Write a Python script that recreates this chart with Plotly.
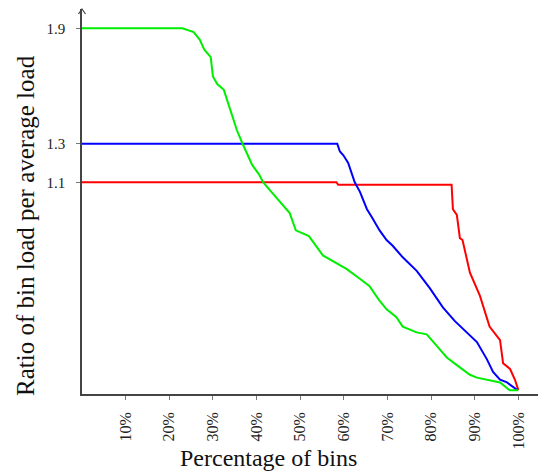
import plotly.graph_objects as go

# Data (x in % of bins, y = ratio of bin load per average load)
green_x = [0, 23, 25.6, 27, 28, 29.5, 30, 31, 32.5, 34, 35.5, 36.8, 38, 39, 40.6, 41.5, 43, 45.3, 47.6, 49, 52,
           55.2, 57.5, 60.6, 63.6, 65.9, 68, 69.8, 72, 73.5, 76.7, 79, 81.3, 83.6, 85.9, 88.9, 90.5, 95.8, 98, 100]
green_y = [1.90, 1.90, 1.88, 1.84, 1.79, 1.75, 1.65, 1.61, 1.58, 1.47, 1.37, 1.30, 1.24, 1.19, 1.14, 1.10, 1.06,
           1.00, 0.94, 0.85, 0.82, 0.72, 0.69, 0.65, 0.60, 0.56, 0.49, 0.44, 0.40, 0.35, 0.32, 0.31, 0.25, 0.19,
           0.15, 0.10, 0.085, 0.06, 0.02, 0.02]

blue_x = [0, 58.5, 59.1, 59.9, 61, 61.8, 62.5, 63.7, 65.3, 66.4, 68.2, 69.8, 71.2, 73.5, 76.7, 79.7, 82.7, 85.4,
          88.2, 90.5, 92.8, 94.2, 95.8, 97.4, 99.8]
blue_y = [1.30, 1.30, 1.26, 1.24, 1.20, 1.14, 1.10, 1.05, 0.96, 0.92, 0.85, 0.80, 0.77, 0.71, 0.64, 0.55, 0.45,
          0.38, 0.32, 0.27, 0.18, 0.115, 0.075, 0.06, 0.02]

red_x = [0, 58.3, 58.7, 84.7, 85, 85.9, 86.6, 87.2, 88.9, 91.2, 93.4, 95.8, 96.5, 98.1, 99.2, 100]
red_y = [1.10, 1.10, 1.087, 1.087, 0.96, 0.93, 0.81, 0.80, 0.63, 0.51, 0.35, 0.28, 0.16, 0.13, 0.075, 0.02]

x_ticks = [10, 20, 30, 40, 50, 60, 70, 80, 90, 100]
x_tick_labels = [f"{v}%" for v in x_ticks]
y_ticks = [1.1, 1.3, 1.9]
y_tick_labels = ["1.1", "1.3", "1.9"]

font_family = "Liberation Serif"

W, H = 540, 473
L, R, T, B = 82, 2, 9, 79
pw, ph = W - L - R, H - T - B

fig = go.Figure()
for xs, ys, col in [(red_x, red_y, "#ff0000"), (blue_x, blue_y, "#0000ff"), (green_x, green_y, "#00ee00")]:
    fig.add_trace(go.Scatter(x=xs, y=ys, mode="lines", line=dict(color=col, width=2), showlegend=False))

# small open arrow head at the top of the y axis
dx, dy = 3.5 / pw, 5.0 / ph
arrow_path = f"M {-dx} {1 - dy} L 0 1 L {dx} {1 - dy}"

fig.update_layout(
    width=W, height=H,
    margin=dict(l=L, r=R, t=T, b=B),
    paper_bgcolor="white", plot_bgcolor="white",
    font=dict(family=font_family, color="#222"),
    xaxis=dict(range=[0, 104.5], tickvals=x_ticks, ticktext=x_tick_labels, tickangle=-90,
               showgrid=False, zeroline=False, showline=True, linecolor="#444", linewidth=1.5,
               ticks="outside", ticklen=4, tickcolor="#777", ticklabelstandoff=6,
               tickfont=dict(size=16, family=font_family, color="#222")),
    yaxis=dict(range=[0, 2.0], tickvals=y_ticks, ticktext=y_tick_labels,
               showgrid=False, zeroline=False, showline=True, linecolor="#444", linewidth=1.5,
               ticks="outside", ticklen=4, tickcolor="#777", ticklabelstandoff=8,
               tickfont=dict(size=15, family=font_family, color="#222")),
    shapes=[dict(type="path", xref="paper", yref="paper", path=arrow_path,
                 line=dict(color="#444", width=1.2))],
    annotations=[
        dict(text="Percentage of bins", xref="paper", yref="paper", x=(268 - L) / pw, y=(H - B - 458) / ph,
             xanchor="center", yanchor="middle", showarrow=False,
             font=dict(size=24, family=font_family, color="#111")),
        dict(text="Ratio of bin load per average load", xref="paper", yref="paper", x=(25 - L) / pw,
             y=(H - B - 226) / ph, xanchor="center", yanchor="middle", textangle=-90, showarrow=False,
             font=dict(size=25, family=font_family, color="#111")),
    ],
)

fig.write_html("out.html", config={"displayModeBar": False},
               post_script="document.body.style.margin='0px';")
